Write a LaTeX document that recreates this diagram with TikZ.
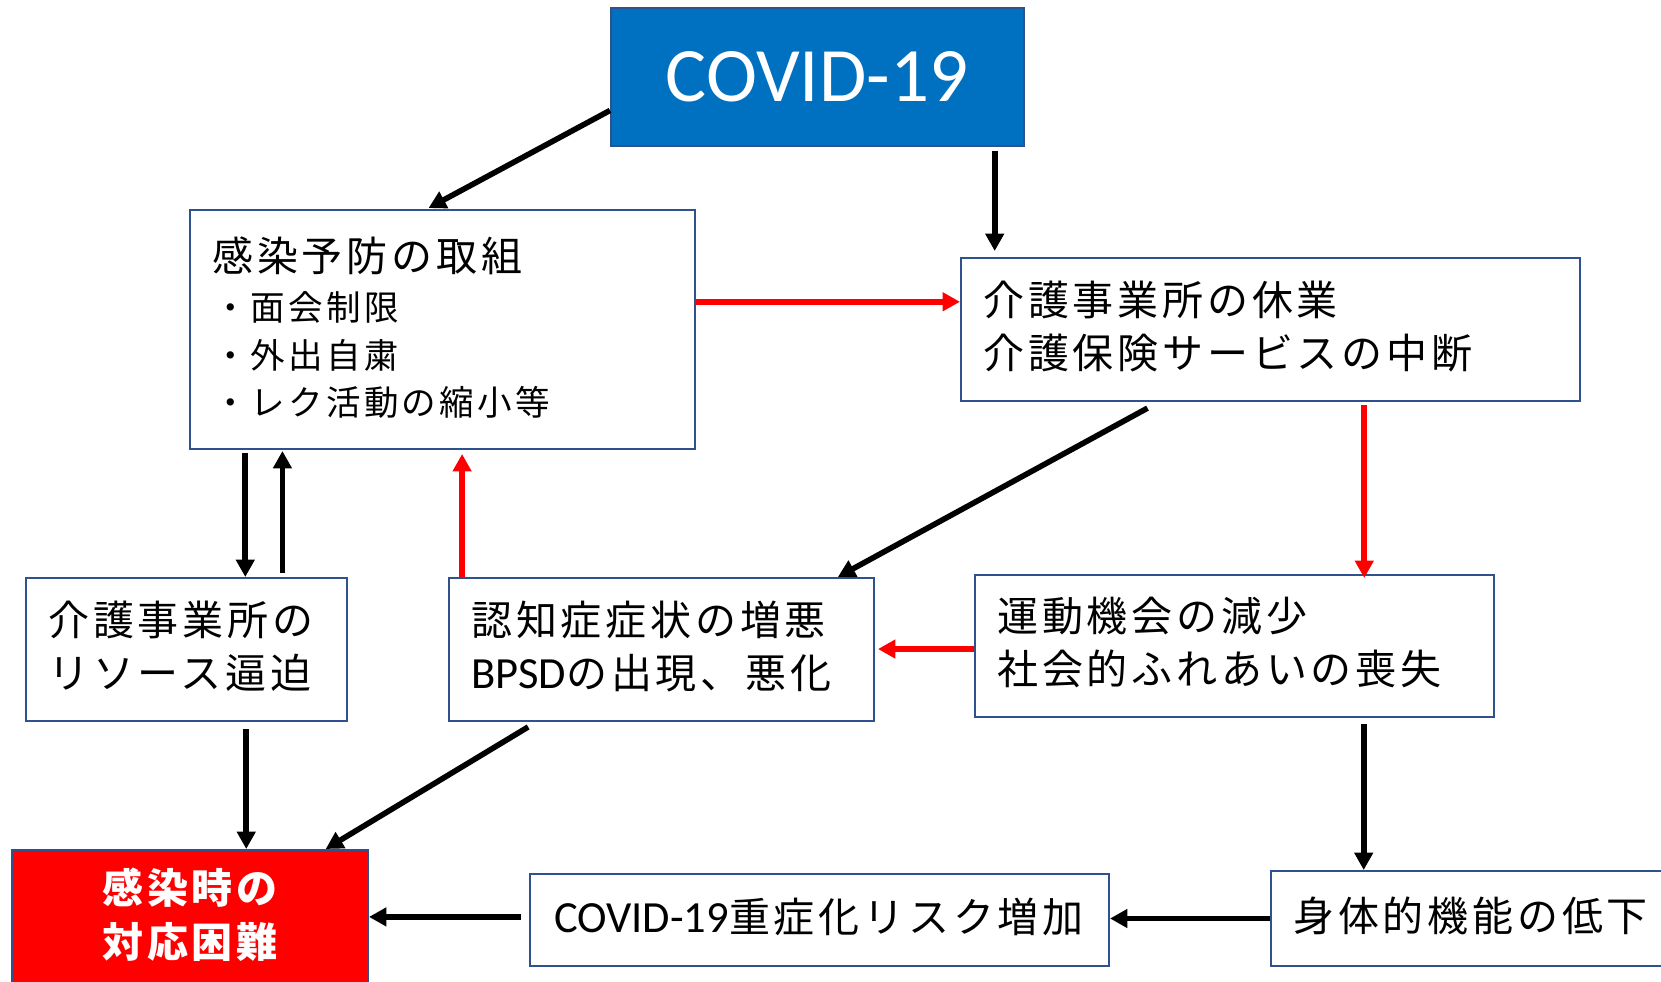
\documentclass[tikz,border=0pt]{standalone}
\usepackage{fontspec}
\setmainfont{Noto Sans CJK JP}
\newfontfamily\jp{Noto Sans CJK JP}[LetterSpace=9.3]
\newfontfamily\lat{Carlito}
\usetikzlibrary{arrows.meta,calc,fit}
\definecolor{boxline}{HTML}{2F528F}
\definecolor{covblue}{HTML}{0070C0}
\definecolor{arrred}{HTML}{FF0000}
\newcommand{\mylat}[1]{{\lat\fontsize{33.4}{39.75}\selectfont #1}}
\tikzset{
  box/.style={draw=boxline, line width=1.5pt, fill=white, inner sep=0pt},
  arr/.style={line width=4.2pt, -{Triangle[length=13pt,width=13.5pt]}},
  redarr/.style={arr, draw=arrred, color=arrred},
  txt/.style={inner sep=0pt, align=left, font=\jp\fontsize{30.75}{39.75}\selectfont},
}
\begin{document}
\begin{tikzpicture}[x=0.75pt,y=-0.75pt]
\useasboundingbox (0,0) rectangle (1661,982);
\clip (0,0) rectangle (1661,982);
% boxes
\node[box, fill=covblue, fit={(611,8) (1024,146)}] (cov) {};
\node[box, fit={(190,210) (695,449)}] (prev) {};
\node[box, fit={(961,258) (1580,401)}] (susp) {};
\node[box, fit={(26,578) (347,721)}] (res) {};
\node[box, fit={(449,578) (874,721)}] (dem) {};
\node[box, fit={(975,575) (1494,717)}] (mov) {};
\node[box, fill=arrred, fit={(12,850) (368,985)}] (diff) {};
\node[box, fit={(530,874) (1109,966)}] (risk) {};
\node[box, fit={(1271,871) (1690,966)}] (phys) {};
% helper coordinates
\coordinate (c1s) at ($(cov.north west)!0.739!(cov.south west)$);
\coordinate (c1e) at ($(prev.north west)!0.469!(prev.north east)$);
\coordinate (c2s) at ($(cov.south west)!0.927!(cov.south east)$);
\coordinate (c3s) at ($(prev.north east)!0.385!(prev.south east)$);
\coordinate (c4s) at ($(susp.south west)!0.320!(susp.south east)$);
\coordinate (c4e) at ($(dem.north west)!0.913!(dem.north east)$);
\coordinate (c5s) at ($(susp.south west)!0.651!(susp.south east)$);
\coordinate (c6s) at ($(mov.north west)!0.521!(mov.south west)$);
\coordinate (c7s) at ($(dem.north west)!0.033!(dem.north east)$);
\coordinate (c8s) at ($(res.north west)!0.682!(res.north east)$);
\coordinate (c9s) at ($(res.north west)!0.797!(res.north east)$);
\coordinate (c10s) at ($(res.south west)!0.685!(res.south east)$);
\coordinate (c11s) at ($(dem.south west)!0.207!(dem.south east)$);
\coordinate (c11e) at ($(diff.north west)!0.879!(diff.north east)$);
\coordinate (c12s) at ($(mov.south west)!0.748!(mov.south east)$);
\coordinate (c14s) at ($(risk.north west)!0.467!(risk.south west)$);
% connectors
\draw[arr, shorten >=1.5pt] (c1s) -- (c1e);
\draw[arr, shorten <=3pt, shorten >=4.5pt] (c2s) -- (c2s |- susp.north);
\draw[redarr] (c3s) -- (c3s -| susp.west);
\draw[arr, shorten <=9.6pt] (c4s) -- (c4e);
\draw[redarr, shorten <=2pt, shorten >=-3pt] (c5s) -- (c5s |- mov.north);
\draw[redarr, shorten >=2.25pt] (c6s) -- (c6s -| dem.east);
\draw[redarr, shorten >=3pt] (c7s) -- (c7s |- prev.south);
\draw[arr, shorten <=2.25pt] (c8s |- prev.south) -- (c8s);
\draw[arr, shorten <=3pt, shorten >=0.75pt] (c9s) -- (c9s |- prev.south);
\draw[arr, shorten <=5.25pt] (c10s) -- (c10s |- diff.north);
\draw[arr, shorten <=7.2pt] (c11s) -- (c11e);
\draw[arr, shorten <=4.5pt] (c12s) -- (c12s |- phys.north);
\draw[arr] (phys.west) -- (phys.west -| risk.east);
\draw[arr, shorten <=6pt] (c14s) -- (c14s -| diff.east);
% texts
\node[txt, text=white, font=\lat\fontsize{57.75}{60}\selectfont] (covT) at (817,77) {COVID-19};
\node[txt, anchor=west] (prevT) at (212,256) {感染予防の取組};
\node[txt, anchor=west, font=\jp\fontsize{25.9}{35.8}\selectfont] (prevL) at (213,355) {・面会制限\\・外出自粛\\・レク活動の縮小等};
\node[txt, anchor=west] (suspT) at (983,326.5) {介護事業所の休業\\介護保険サービスの中断};
\node[txt, anchor=west] (resT) at (48,646.5) {介護事業所の\\リソース逼迫};
\node[txt, anchor=west] (demT) at (471,646.5) {認知症症状の増悪\\\mylat{BPSD}の出現、悪化};
\node[txt, anchor=west] (movT) at (997,642.5) {運動機会の減少\\社会的ふれあいの喪失};
\node[txt, align=center, text=white, font=\jp\bfseries\fontsize{30.75}{40.5}\selectfont] (diffT) at (190,915) {感染時の\\対応困難};
\node[txt] (riskT) at (819,917) {\mylat{COVID-19}重症化リスク増加};
\node[txt, anchor=west] (physT) at (1293,916) {身体的機能の低下};
\end{tikzpicture}
\end{document}
